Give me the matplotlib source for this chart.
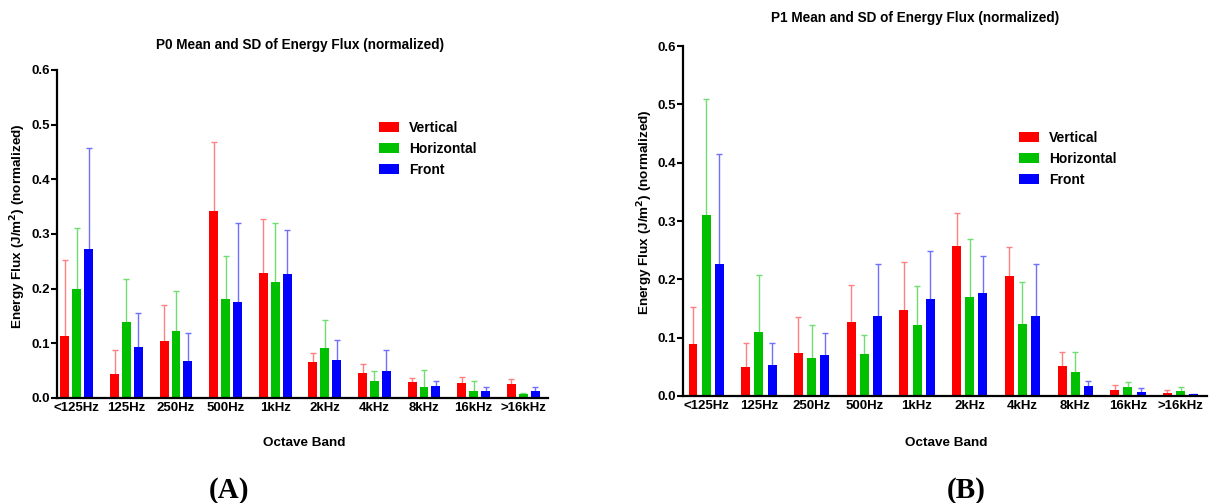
import numpy as np
import matplotlib
matplotlib.use('Agg')
import matplotlib.pyplot as plt

plt.rcParams['font.family'] = ['Liberation Sans', 'DejaVu Sans']
plt.rcParams['font.weight'] = 'bold'

bands = ['<125Hz', '125Hz', '250Hz', '500Hz', '1kHz', '2kHz', '4kHz', '8kHz', '16kHz', '>16kHz']
series = ['Vertical', 'Horizontal', 'Front']
colors = ['#ff0000', '#00c000', '#0000ff']
err_colors = ['#ff8080', '#70dd70', '#7070ff']

# P0 means and SDs
p0_vert = [0.113, 0.043, 0.104, 0.342, 0.228, 0.065, 0.046, 0.029, 0.027, 0.026]
p0_vert_sd = [0.139, 0.045, 0.066, 0.127, 0.100, 0.018, 0.017, 0.008, 0.011, 0.008]
p0_horz = [0.200, 0.139, 0.123, 0.182, 0.212, 0.092, 0.032, 0.021, 0.012, 0.007]
p0_horz_sd = [0.111, 0.078, 0.072, 0.078, 0.109, 0.050, 0.018, 0.030, 0.020, 0.003]
p0_front = [0.273, 0.093, 0.068, 0.176, 0.227, 0.070, 0.049, 0.022, 0.013, 0.012]
p0_front_sd = [0.184, 0.062, 0.050, 0.145, 0.081, 0.036, 0.039, 0.010, 0.007, 0.009]

# P1 means and SDs
p1_vert = [0.089, 0.050, 0.073, 0.127, 0.147, 0.257, 0.206, 0.052, 0.010, 0.006]
p1_vert_sd = [0.064, 0.041, 0.062, 0.064, 0.083, 0.057, 0.050, 0.024, 0.009, 0.005]
p1_horz = [0.311, 0.109, 0.065, 0.072, 0.121, 0.169, 0.124, 0.042, 0.015, 0.009]
p1_horz_sd = [0.198, 0.099, 0.057, 0.033, 0.068, 0.101, 0.072, 0.033, 0.009, 0.006]
p1_front = [0.227, 0.054, 0.071, 0.138, 0.167, 0.176, 0.137, 0.017, 0.007, 0.003]
p1_front_sd = [0.188, 0.037, 0.037, 0.088, 0.082, 0.064, 0.090, 0.009, 0.006, 0.001]

W, H = 1210, 503
fig = plt.figure(figsize=(W / 100, H / 100), dpi=100)


def panel(rect, means, sds, offset, width, xlim, title, title_xy, ylab_xy, xlab_xy,
          leg_xy, tag, tag_xy):
    ax = fig.add_axes(rect)
    x = np.arange(len(bands))
    for k in range(3):
        xs = x + (k - 1) * offset
        # only the upper half shows, the bar hides the rest
        ax.errorbar(xs, means[k], yerr=sds[k], fmt='none', ecolor=err_colors[k],
                    elinewidth=1, capsize=2, capthick=1, zorder=1)
        ax.bar(xs, means[k], width=width, color=colors[k], label=series[k], zorder=2)
    ax.set_xlim(*xlim)
    ax.set_ylim(0, 0.6)
    ax.set_yticks(np.arange(0, 0.61, 0.1))
    ax.set_yticklabels(['%.1f' % v for v in np.arange(0, 0.61, 0.1)])
    ax.set_xticks(x)
    ax.set_xticklabels(bands)
    for s in ['top', 'right']:
        ax.spines[s].set_visible(False)
    for s in ['left', 'bottom']:
        ax.spines[s].set_linewidth(1.6)
    ax.tick_params(axis='y', length=4, width=1.5, pad=1, labelsize=9.5)
    ax.tick_params(axis='x', length=0, pad=3, labelsize=9.5)
    fig.text(title_xy[0] / W, 1 - title_xy[1] / H, title, ha='center', va='center',
             fontsize=9.8, fontweight='bold')
    fig.text(ylab_xy[0] / W, 1 - ylab_xy[1] / H, 'Energy Flux (J/m$^\\mathbf{2}$) (normalized)',
             rotation=90, ha='center', va='center', fontsize=9.7, fontweight='bold')
    fig.text(xlab_xy[0] / W, 1 - xlab_xy[1] / H, 'Octave Band', ha='center', va='center',
             fontsize=9.7, fontweight='bold')
    h, l = ax.get_legend_handles_labels()
    fig.legend(h, l, loc='upper left', bbox_to_anchor=(leg_xy[0] / W, 1 - leg_xy[1] / H),
               frameon=False, fontsize=10, handlelength=1.45, handleheight=0.75,
               handletextpad=0.7, labelspacing=0.5, borderpad=0, borderaxespad=0)
    fig.text(tag_xy[0] / W, 1 - tag_xy[1] / H, tag, ha='center', va='center',
             fontsize=21, fontweight='bold', family='Liberation Serif')
    return ax


panel([57 / W, 105 / H, 491 / W, 328 / H],
      [p0_vert, p0_horz, p0_front], [p0_vert_sd, p0_horz_sd, p0_front_sd],
      0.24, 0.18, (-0.40, 9.5),
      'P0 Mean and SD of Energy Flux (normalized)', (300, 45), (18, 226), (304, 443),
      (379, 121), '(A)', (229, 491))

panel([683 / W, 107 / H, 524 / W, 350 / H],
      [p1_vert, p1_horz, p1_front], [p1_vert_sd, p1_horz_sd, p1_front_sd],
      0.25, 0.17, (-0.44, 9.5),
      'P1 Mean and SD of Energy Flux (normalized)', (915, 18), (645, 212), (946, 443),
      (1019, 131), '(B)', (966, 491))

fig.savefig('out.png', dpi=100)
